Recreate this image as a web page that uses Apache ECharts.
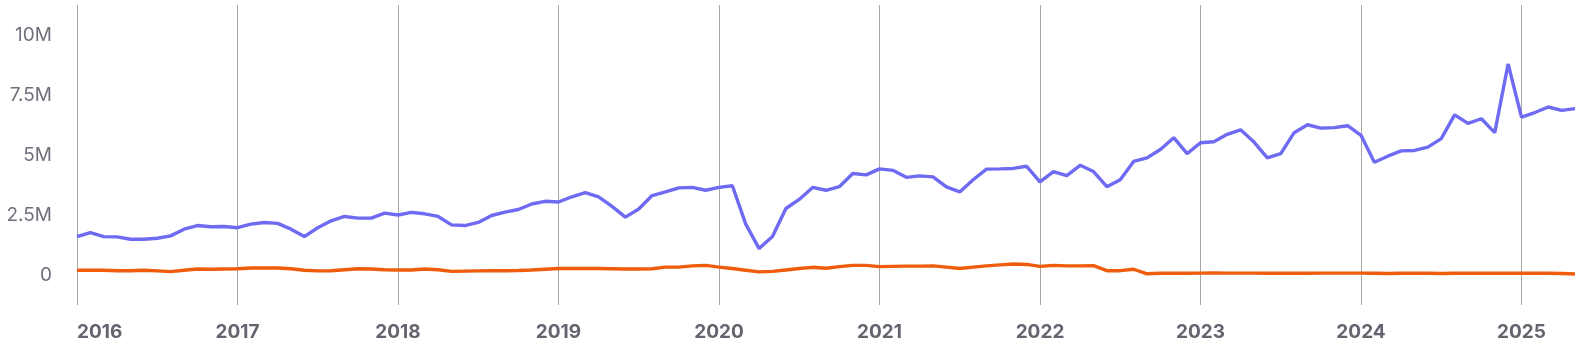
<!DOCTYPE html>
<html>
<head>
<meta charset="utf-8">
<script src="https://cdn.jsdelivr.net/npm/echarts@6/dist/echarts.min.js"></script>
<style>
  html, body { margin: 0; padding: 0; background: #ffffff; }
  #chart { width: 1583px; height: 361px; }
</style>
</head>
<body>
<div id="chart"></div>
<script>
// Years covered (monthly data Jan 2016 .. May 2025)
const years = ['2016','2017','2018','2019','2020','2021','2022','2023','2024','2025'];
const monthsInLastYear = 5;

// Series values in millions, one per month
const blueValues = [
  1.60,1.77,1.60,1.59,1.49,1.49,1.53,1.63,1.91,2.06,2.01,2.02,
  1.97,2.12,2.19,2.15,1.91,1.60,1.97,2.26,2.44,2.37,2.37,2.58,
  2.50,2.61,2.55,2.44,2.09,2.06,2.19,2.48,2.62,2.73,2.96,3.07,
  3.04,3.26,3.43,3.26,2.86,2.41,2.75,3.31,3.46,3.63,3.65,3.53,
  3.65,3.72,2.12,1.10,1.60,2.77,3.15,3.65,3.53,3.68,4.23,4.17,
  4.42,4.36,4.07,4.13,4.09,3.67,3.46,3.97,4.41,4.42,4.44,4.53,
  3.88,4.31,4.14,4.57,4.31,3.68,3.97,4.73,4.88,5.23,5.72,5.06,
  5.51,5.55,5.86,6.05,5.54,4.88,5.06,5.93,6.26,6.12,6.14,6.22,
  5.82,4.70,4.95,5.17,5.19,5.33,5.68,6.67,6.32,6.51,5.93,8.79,
  6.58,6.77,7.00,6.86,6.93
];
const orangeValues = [
  0.20,0.20,0.20,0.18,0.18,0.20,0.17,0.14,0.20,0.25,0.24,0.25,
  0.26,0.29,0.29,0.29,0.26,0.20,0.17,0.18,0.22,0.26,0.25,0.22,
  0.21,0.21,0.25,0.22,0.15,0.16,0.17,0.18,0.18,0.19,0.21,0.24,
  0.27,0.27,0.27,0.27,0.26,0.25,0.25,0.26,0.33,0.33,0.38,0.40,
  0.33,0.27,0.20,0.13,0.15,0.21,0.27,0.32,0.28,0.35,0.40,0.40,
  0.35,0.36,0.37,0.37,0.38,0.33,0.27,0.33,0.38,0.42,0.46,0.44,
  0.36,0.40,0.38,0.38,0.39,0.18,0.18,0.24,0.05,0.07,0.07,0.07,
  0.08,0.09,0.08,0.08,0.08,0.07,0.07,0.07,0.07,0.08,0.08,0.08,
  0.08,0.07,0.06,0.07,0.07,0.07,0.06,0.07,0.07,0.07,0.07,0.07,
  0.07,0.07,0.07,0.06,0.04
];

// Y tick labels
const yTickValues = [0, 2.5, 5, 7.5, 10];
const yTickLabels = ['0', '2.5M', '5M', '7.5M', '10M'];

// Build monthly categories
const categories = [];
years.forEach((y, yi) => {
  const n = (yi === years.length - 1) ? monthsInLastYear : 12;
  for (let m = 1; m <= n; m++) categories.push(y + '-' + (m < 10 ? '0' + m : m));
});

const isJan = (idx, val) => String(val).endsWith('-01');

const chart = echarts.init(document.getElementById('chart'), null, { renderer: 'canvas' });
chart.setOption({
  animation: false,
  backgroundColor: '#ffffff',
  grid: { left: 77, right: 8, top: 5, bottom: 56, containLabel: false },
  xAxis: {
    type: 'category',
    data: categories,
    boundaryGap: false,
    axisLine: { show: false },
    axisTick: { show: false },
    splitLine: { show: true, interval: isJan, lineStyle: { color: '#a6a6a6', width: 1 } },
    axisLabel: {
      interval: isJan,
      formatter: v => v.slice(0, 4),
      color: '#64646f',
      fontFamily: 'Inter',
      fontWeight: 'bold',
      fontSize: 19,
      margin: 18,
      alignMinLabel: 'left',
      padding: [0, 0, 0, 0]
    }
  },
  yAxis: {
    type: 'value',
    min: -1.25,
    max: 11.25,
    interval: 1.25,
    axisLine: { show: false },
    axisTick: { show: false },
    splitLine: { show: false },
    axisLabel: {
      color: '#70707c',
      fontFamily: 'Inter',
      fontSize: 19,
      margin: 25,
      formatter: v => {
        const k = yTickValues.findIndex(t => Math.abs(t - v) < 1e-6);
        return k >= 0 ? yTickLabels[k] : '';
      }
    }
  },
  series: [
    {
      name: 'blue',
      type: 'line',
      data: blueValues,
      symbol: 'none',
      lineStyle: { color: '#6e6af2', width: 3.4 },
      itemStyle: { color: '#6e6af2' }
    },
    {
      name: 'orange',
      type: 'line',
      data: orangeValues,
      symbol: 'none',
      lineStyle: { color: '#ee5c0c', width: 3.4 },
      itemStyle: { color: '#ee5c0c' }
    }
  ]
});
</script>
</body>
</html>
